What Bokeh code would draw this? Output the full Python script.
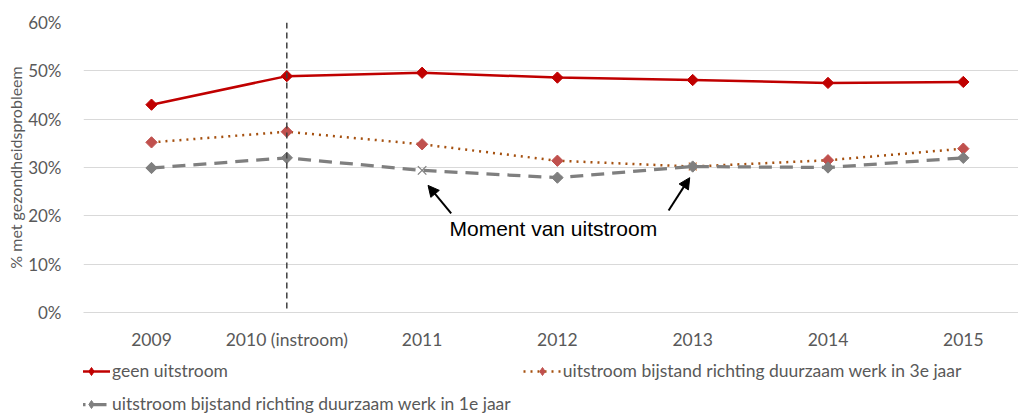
from bokeh.plotting import figure
from bokeh.layouts import column
from bokeh.models import (Range1d, FixedTicker, PrintfTickFormatter, Span, Arrow,
                          NormalHead, Label, Legend, LegendItem)
from bokeh.embed import file_html
from bokeh.resources import INLINE

categories = ["2009", "2010 (instroom)", "2011", "2012", "2013", "2014", "2015"]
geen_uitstroom = [43.0, 48.9, 49.6, 48.6, 48.1, 47.5, 47.7]
uitstroom_3e_jaar = [35.2, 37.4, 34.8, 31.4, 30.2, 31.5, 33.9]
uitstroom_1e_jaar = [29.9, 32.0, 29.4, 27.9, 30.2, 30.0, 32.0]
moment_3e_jaar = "2013"
moment_1e_jaar = "2011"
instroom = "2010 (instroom)"
y_ticks = [0, 10, 20, 30, 40, 50, 60]

label_3e = "uitstroom bijstand richting duurzaam werk in 3e jaar"
label_1e = "uitstroom bijstand richting duurzaam werk in 1e jaar"
label_geen = "geen uitstroom"
annot_text = "Moment van uitstroom"

xs = list(range(len(categories)))
FONT = "Lato"
GREY_TXT = "#595959"
DIAMOND = dict(marker="square", angle=0.7854, size=8)

STYLE_GEEN = dict(line=dict(line_color="#c00000", line_width=2.5), color="#c00000")
STYLE_3E = dict(line=dict(line_color="#a5500f", line_width=2.5, line_dash="2 5"), color="#c0504d")
STYLE_1E = dict(line=dict(line_color="#7f7f7f", line_width=3.25, line_dash="13 8"), color="#7f7f7f")

p = figure(width=1018, height=356, output_backend="svg", toolbar_location=None,
           x_range=Range1d(-0.5026, 6.408), y_range=Range1d(0, 60),
           min_border_left=83, min_border_right=0, min_border_top=22, min_border_bottom=44)
p.outline_line_color = None
p.xgrid.grid_line_color = None
p.ygrid.grid_line_color = "#d9d9d9"
p.ygrid.grid_line_width = 1

p.xaxis.ticker = FixedTicker(ticks=xs)
p.xaxis.major_label_overrides = {i: c for i, c in enumerate(categories)}
p.xaxis.axis_line_color = "#d9d9d9"
p.xaxis.major_tick_line_color = None
p.xaxis.minor_tick_line_color = None
p.xaxis.major_label_standoff = 10
p.xaxis.major_label_text_font = FONT
p.xaxis.major_label_text_font_size = "17.5px"
p.xaxis.major_label_text_color = GREY_TXT

p.yaxis.ticker = FixedTicker(ticks=y_ticks)
p.yaxis.formatter = PrintfTickFormatter(format="%d%%")
p.yaxis.axis_line_color = None
p.yaxis.major_tick_line_color = None
p.yaxis.minor_tick_line_color = None
p.yaxis.major_label_standoff = 16
p.yaxis.major_label_text_font = FONT
p.yaxis.major_label_text_font_size = "17px"
p.yaxis.major_label_text_color = GREY_TXT
p.yaxis.axis_label = "% met gezondheidsprobleem"
p.yaxis.axis_label_text_font = FONT
p.yaxis.axis_label_text_font_size = "16px"
p.yaxis.axis_label_text_font_style = "normal"
p.yaxis.axis_label_text_color = GREY_TXT
p.yaxis.axis_label_standoff = 0

# vertical dashed line at instroom
p.add_layout(Span(location=categories.index(instroom), dimension="height",
                  line_color="#404040", line_width=1.5, line_dash="6 4"))

def mark(st):
    return dict(fill_color=st["color"], line_color=st["color"], **DIAMOND)

# geen uitstroom
p.line(xs, geen_uitstroom, **STYLE_GEEN["line"])
p.scatter(xs, geen_uitstroom, **mark(STYLE_GEEN))

# 3e jaar
p.line(xs, uitstroom_3e_jaar, **STYLE_3E["line"])
i3 = categories.index(moment_3e_jaar)
x3 = [x for x in xs if x != i3]
p.scatter(x3, [uitstroom_3e_jaar[x] for x in x3], **mark(STYLE_3E))
p.scatter([i3], [uitstroom_3e_jaar[i3]], marker="x", size=11, line_color="#c55a11", line_width=1.2)

# 1e jaar
p.line(xs, uitstroom_1e_jaar, **STYLE_1E["line"])
i1 = categories.index(moment_1e_jaar)
x1 = [x for x in xs if x != i1]
p.scatter(x1, [uitstroom_1e_jaar[x] for x in x1], **mark(STYLE_1E))
p.scatter([i1], [uitstroom_1e_jaar[i1]], marker="x", size=12, line_color="#7f7f7f", line_width=1.2)

# arrows + annotation
head = dict(size=11, fill_color="black", line_color="black")
p.add_layout(Arrow(end=NormalHead(**head), x_start=2.215, y_start=20.5, x_end=2.044, y_end=26.3,
                   line_color="black", line_width=2))
p.add_layout(Arrow(end=NormalHead(**head), x_start=3.822, y_start=21.1, x_end=3.978, y_end=27.9,
                   line_color="black", line_width=2))
p.add_layout(Label(x=2.97, y=17.4, text=annot_text, text_align="center", text_baseline="middle",
                   text_font="Liberation Sans", text_font_size="21px", text_color="black"))

# legend in its own strip below the chart (proxy renderers sit outside the visible range)
lf = figure(width=1018, height=58, output_backend="svg", toolbar_location=None,
            x_range=Range1d(0, 1), y_range=Range1d(0, 1),
            x_axis_location=None, y_axis_location=None,
            min_border_left=0, min_border_right=0, min_border_top=0, min_border_bottom=0)
lf.grid.visible = False
lf.outline_line_color = None
items = []
for lab, st in [(label_geen, STYLE_GEEN), (label_3e, STYLE_3E), (label_1e, STYLE_1E)]:
    r1 = lf.line([-5, -4], [-5, -5], **st["line"])
    r2 = lf.scatter([-5], [-5], marker="diamond", size=12,
                    fill_color=st["color"], line_color=st["color"])
    items.append(LegendItem(label=lab, renderers=[r1, r2]))
legend = Legend(items=items, location=(-11, 0), orientation="horizontal", ncols=2,
                padding=0, margin=0, spacing=12, glyph_width=38, glyph_height=20,
                label_height=20, label_standoff=2,
                label_text_font=FONT, label_text_font_size="17.5px", label_text_color=GREY_TXT,
                border_line_alpha=0, background_fill_alpha=0)
lf.add_layout(legend, "center")

layout = column(p, lf, spacing=0)
open("out.html", "w").write(file_html(layout, INLINE))
